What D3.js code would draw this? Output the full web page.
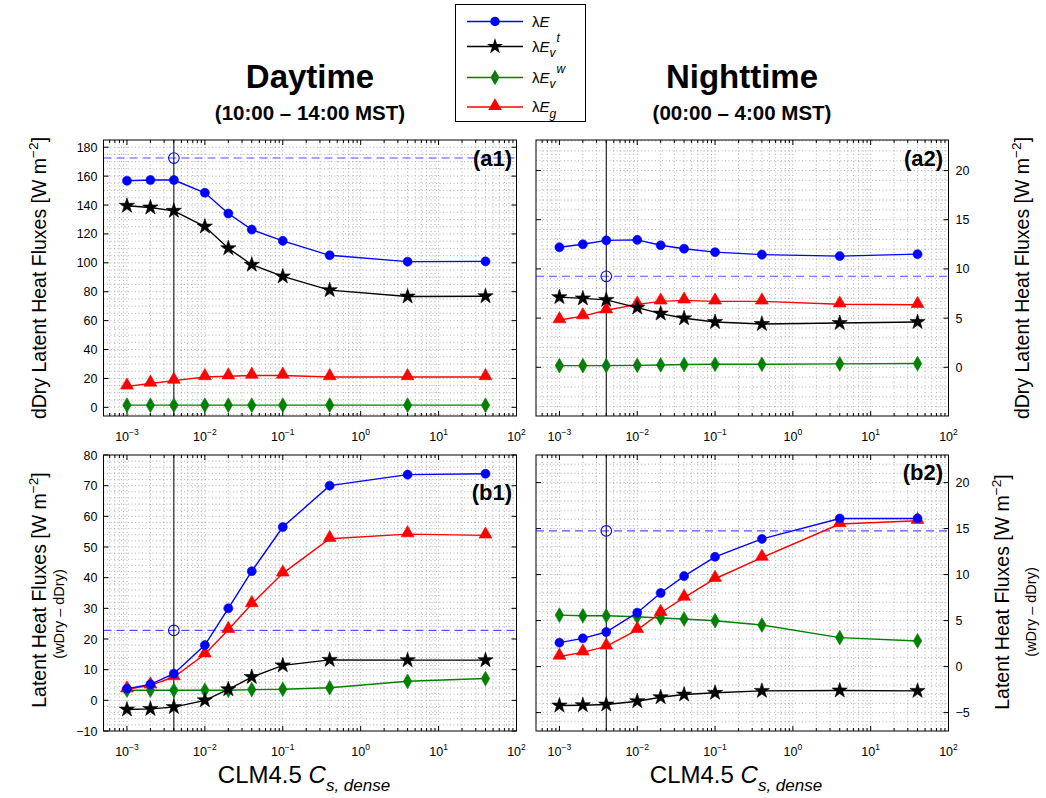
<!DOCTYPE html>
<html><head><meta charset="utf-8">
<script src="https://cdn.jsdelivr.net/npm/d3@7"></script>
<style>body{margin:0;background:#fff}svg{display:block}text{font-family:"Liberation Sans",Arial,Helvetica,sans-serif}</style>
</head><body><svg id="c" width="1046" height="798"></svg>
<script>
// ---------- data ----------
const cs = [0.001, 0.002, 0.004, 0.01, 0.02, 0.04, 0.1, 0.4, 4, 40];
const xTicks = [0.001, 0.01, 0.1, 1, 10, 100];
const xTickExp = ["\u22123", "\u22122", "\u22121", "0", "1", "2"];
const ctrlCs = 0.004;

// (a1) daytime dDry
const a1_E  = [156.8, 157.3, 157.3, 148.5, 134.1, 123.0, 115.2, 105.2, 100.8, 101.0];
const a1_Vt = [139.5, 138.3, 136.0, 125.1, 110.1, 98.7, 90.6, 81.1, 76.7, 76.9];
const a1_Vw = [1.5, 1.5, 1.5, 1.5, 1.5, 1.5, 1.5, 1.5, 1.5, 1.5];
const a1_G  = [14.5, 16.5, 18.5, 21.0, 21.5, 22.0, 22.0, 21.0, 21.0, 21.0];
const a1_obs = 172.5;

// (a2) nighttime dDry
const a2_E  = [12.2, 12.5, 12.9, 12.95, 12.4, 12.05, 11.7, 11.45, 11.3, 11.5];
const a2_Vt = [7.13, 7.0, 6.85, 6.07, 5.46, 4.98, 4.6, 4.4, 4.5, 4.6];
const a2_Vw = [0.17, 0.17, 0.17, 0.2, 0.24, 0.28, 0.31, 0.31, 0.35, 0.38];
const a2_G  = [4.8, 5.2, 5.8, 6.4, 6.7, 6.8, 6.7, 6.7, 6.4, 6.35];
const a2_obs = 9.25;

// (b1) daytime wDry - dDry
const b1_E  = [3.8, 5.2, 8.7, 18.0, 30.0, 42.1, 56.5, 70.0, 73.6, 73.9];
const b1_Vt = [-3.0, -2.8, -2.2, 0.0, 3.6, 7.6, 11.4, 13.2, 13.1, 13.1];
const b1_Vw = [3.3, 3.3, 3.3, 3.3, 3.3, 3.5, 3.6, 4.1, 6.2, 7.1];
const b1_G  = [3.6, 4.9, 7.6, 15.0, 23.0, 31.4, 41.4, 52.7, 54.2, 53.8];
const b1_obs = 22.8;

// (b2) nighttime wDry - dDry
const b2_E  = [2.6, 3.07, 3.76, 5.86, 8.0, 9.84, 11.93, 13.88, 16.1, 16.1];
const b2_Vt = [-4.23, -4.2, -4.12, -3.76, -3.33, -3.04, -2.85, -2.64, -2.6, -2.64];
const b2_Vw = [5.6, 5.53, 5.53, 5.42, 5.28, 5.17, 4.99, 4.52, 3.15, 2.79];
const b2_G  = [1.1, 1.55, 2.2, 4.0, 5.85, 7.5, 9.55, 11.85, 15.5, 15.85];
const b2_obs = 14.75;

const seriesNames = ["E", "Vt", "Vw", "G"];

// ---------- drawing ----------
const svg = d3.select("#c");
const colors = {E:"#0000ff", Vt:"#000000", Vw:"#008000", G:"#ff0000"};
const symbols = {E:d3.symbolCircle, Vt:d3.symbolStar, Vw:d3.symbolDiamond, G:d3.symbolTriangle};
const symSize = {E:64, Vt:72, Vw:62, G:72};

const panels = [
  {id:"(a1)", x0:103.5, x1:516.5, y0:140, y1:416, ydom:[-6,185], yt:d3.range(0,181,20), ym:5, side:"left",
   data:{E:a1_E,Vt:a1_Vt,Vw:a1_Vw,G:a1_G}, obs:a1_obs, lab:[512,166]},
  {id:"(a2)", x0:536, x1:948.5, y0:140, y1:416, ydom:[-4.95,23.1], yt:[0,5,10,15,20], ym:1, side:"right",
   data:{E:a2_E,Vt:a2_Vt,Vw:a2_Vw,G:a2_G}, obs:a2_obs, lab:[943,166]},
  {id:"(b1)", x0:103.5, x1:516.5, y0:455, y1:731, ydom:[-10,80], yt:d3.range(-10,81,10), ym:2, side:"left",
   data:{E:b1_E,Vt:b1_Vt,Vw:b1_Vw,G:b1_G}, obs:b1_obs, lab:[512,500]},
  {id:"(b2)", x0:536, x1:948.5, y0:455, y1:731, ydom:[-7,23], yt:[-5,0,5,10,15,20], ym:1, side:"right",
   data:{E:b2_E,Vt:b2_Vt,Vw:b2_Vw,G:b2_G}, obs:b2_obs, lab:[943,480]}
];

function fmt(v){ return v<0 ? "\u2212"+Math.abs(v) : String(v); }

panels.forEach(p => {
  const x = d3.scaleLog().domain([5e-4, 100]).range([p.x0, p.x1]);
  const y = d3.scaleLinear().domain(p.ydom).range([p.y1, p.y0]);
  const g = svg.append("g");

  const xMinor = [];
  for (let e = -4; e <= 1; e++) for (let m = 1; m <= 9; m++) {
    const v = m * Math.pow(10, e);
    if (v > 5e-4 * 1.0001 && v < 100 * 0.9999) xMinor.push(v);
  }
  const yMinor = d3.range(Math.ceil(p.ydom[0]/p.ym)*p.ym, p.ydom[1], p.ym).filter(v => y(v) > p.y0+0.5 && y(v) < p.y1-0.5);

  // grid
  const grid = g.append("g").attr("stroke", "#a0a0a0").attr("stroke-width", 0.8).attr("stroke-dasharray", "1,2.5");
  xMinor.forEach(v => grid.append("line").attr("x1", x(v)).attr("x2", x(v)).attr("y1", p.y0).attr("y2", p.y1));
  yMinor.forEach(v => grid.append("line").attr("x1", p.x0).attr("x2", p.x1).attr("y1", y(v)).attr("y2", y(v)));

  // ticks (inside, all four sides)
  const tk = g.append("g").attr("stroke", "#000").attr("stroke-width", 1);
  xMinor.forEach(v => {
    const major = xTicks.some(t => Math.abs(Math.log10(t) - Math.log10(v)) < 1e-6);
    const L = major ? 5 : 3;
    tk.append("line").attr("x1", x(v)).attr("x2", x(v)).attr("y1", p.y1).attr("y2", p.y1 - L);
    tk.append("line").attr("x1", x(v)).attr("x2", x(v)).attr("y1", p.y0).attr("y2", p.y0 + L);
  });
  p.yt.forEach(v => {
    tk.append("line").attr("x1", p.x0).attr("x2", p.x0 + 5).attr("y1", y(v)).attr("y2", y(v));
    tk.append("line").attr("x1", p.x1).attr("x2", p.x1 - 5).attr("y1", y(v)).attr("y2", y(v));
  });

  // x tick labels
  xTicks.forEach((t, i) => {
    const tx = g.append("text").attr("x", x(t)).attr("y", p.y1 + 25).attr("text-anchor", "middle")
      .attr("font-size", 12.5).attr("fill", "#000");
    tx.append("tspan").text("10");
    tx.append("tspan").attr("dy", -6).attr("font-size", 8.5).text(xTickExp[i]);
  });
  // y tick labels
  p.yt.forEach(v => {
    g.append("text").attr("x", p.side === "left" ? p.x0 - 6 : p.x1 + 7).attr("y", y(v) + 4.5)
      .attr("text-anchor", p.side === "left" ? "end" : "start").attr("font-size", 12.5).text(fmt(v));
  });

  // reference lines
  g.append("line").attr("x1", p.x0).attr("x2", p.x1).attr("y1", y(p.obs)).attr("y2", y(p.obs))
    .attr("stroke", "#5050ff").attr("stroke-width", 1.1).attr("stroke-dasharray", "8,5");
  g.append("line").attr("x1", x(ctrlCs)).attr("x2", x(ctrlCs)).attr("y1", p.y0).attr("y2", p.y1)
    .attr("stroke", "#000").attr("stroke-width", 1);
  g.append("circle").attr("cx", x(ctrlCs)).attr("cy", y(p.obs)).attr("r", 5.3)
    .attr("fill", "none").attr("stroke", "#0000ff").attr("stroke-width", 1.1);

  // series
  const order = ["Vw", "G", "Vt", "E"];
  order.forEach(k => {
    const vals = p.data[k];
    const pts = cs.map((c, i) => [x(c), y(vals[i])]);
    g.append("path").attr("d", d3.line()(pts)).attr("fill", "none").attr("stroke", colors[k]).attr("stroke-width", 1.4);
    const sym = d3.symbol().type(symbols[k]).size(symSize[k]);
    pts.forEach(([px, py]) => {
      g.append("path").attr("d", sym()).attr("transform", `translate(${px},${py + (k === "G" ? -1 : 0)})`)
        .attr("fill", colors[k]).attr("stroke", colors[k]).attr("stroke-width", 0.6);
    });
  });

  // box
  g.append("rect").attr("x", p.x0).attr("y", p.y0).attr("width", p.x1 - p.x0).attr("height", p.y1 - p.y0)
    .attr("fill", "none").attr("stroke", "#000").attr("stroke-width", 1);

  // panel label
  g.append("text").attr("x", p.lab[0]).attr("y", p.lab[1]).attr("text-anchor", "end")
    .attr("font-size", 22).attr("font-weight", "bold").text(p.id);
});

// ---------- titles ----------
function title(cx, t1, t2){
  svg.append("text").attr("x", cx).attr("y", 88).attr("text-anchor", "middle").attr("font-size", 33).attr("font-weight", "bold").text(t1);
  svg.append("text").attr("x", cx).attr("y", 120).attr("text-anchor", "middle").attr("font-size", 20.5).attr("font-weight", "bold").text(t2);
}
title(310, "Daytime", "(10:00 \u2013 14:00 MST)");
title(742, "Nighttime", "(00:00 \u2013 4:00 MST)");

// ---------- x labels ----------
[310, 742].forEach(cx => {
  const t = svg.append("text").attr("x", cx - 6).attr("y", 783).attr("text-anchor", "middle").attr("font-size", 24);
  t.append("tspan").text("CLM4.5 ");
  t.append("tspan").attr("font-style", "italic").text("C");
  t.append("tspan").attr("font-style", "italic").attr("font-size", 17).attr("dy", 8).text("s, dense");
});

// ---------- y labels ----------
function ylab(xb, yc, size, withSup, txt){
  const t = svg.append("text").attr("transform", `translate(${xb},${yc}) rotate(-90)`).attr("text-anchor", "middle").attr("font-size", size);
  if (withSup) {
    t.append("tspan").text(txt + " [W m");
    t.append("tspan").attr("dy", -8).attr("font-size", size * 0.7).text("\u22122");
    t.append("tspan").attr("dy", 8).text("]");
  } else t.text(txt);
}
ylab(46, 278, 19.5, true, "dDry Latent Heat Fluxes");
ylab(46, 590, 19.5, true, "Latent Heat Fluxes");
ylab(64, 614, 14.5, false, "(wDry \u2013 dDry)");
ylab(1029, 278, 19.5, true, "dDry Latent Heat Fluxes");
ylab(1009, 592, 19.5, true, "Latent Heat Fluxes");
ylab(1036, 612, 14.5, false, "(wDry \u2013 dDry)");

// ---------- legend ----------
const leg = svg.append("g");
leg.append("rect").attr("x", 455.5).attr("y", 4.5).attr("width", 130).attr("height", 117).attr("fill", "#fff").attr("stroke", "#000");
const legRows = [21.5, 46.5, 77.5, 107];
seriesNames.forEach((k, i) => {
  const yy = legRows[i];
  leg.append("line").attr("x1", 467).attr("x2", 523).attr("y1", yy).attr("y2", yy).attr("stroke", colors[k]).attr("stroke-width", 1.5);
  leg.append("path").attr("d", d3.symbol().type(symbols[k]).size(symSize[k] * 1.1)()).attr("transform", `translate(495,${yy + (k === "G" ? -1 : 0)})`).attr("fill", colors[k]);
  const t = leg.append("text").attr("x", 532).attr("y", yy + 5).attr("font-size", 15);
  t.append("tspan").text("\u03bb");
  t.append("tspan").attr("font-style", "italic").text("E");
  if (k === "Vt" || k === "Vw") {
    t.append("tspan").attr("font-size", 12).attr("font-style", "italic").attr("dy", 5).text("v");
    t.append("tspan").attr("font-size", 12).attr("font-style", "italic").attr("dy", -15).attr("dx", 1).text(k === "Vt" ? "t" : "w");
  } else if (k === "G") {
    t.append("tspan").attr("font-size", 12).attr("font-style", "italic").attr("dy", 6).text("g");
  }
});
</script></body></html>
